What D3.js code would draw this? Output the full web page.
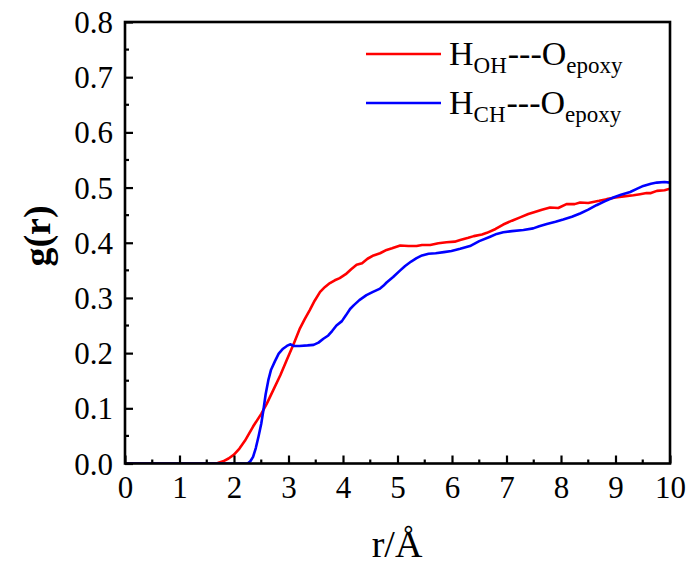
<!DOCTYPE html>
<html><head><meta charset="utf-8">
<script src="https://cdn.jsdelivr.net/npm/d3@7"></script>
<style>
html,body{margin:0;padding:0;background:#fff;}
svg text{font-family:"Liberation Serif","Times New Roman",serif !important;fill:#000;}
</style></head>
<body>
<svg id="chart" width="691" height="566"></svg>
<script>
// ---- data ----
const redR = [0,1.6,1.7,1.8,1.9,2.0,2.1,2.2,2.35,2.5,2.6,2.72,2.85,2.97,3.1,3.21,3.3,3.39,3.48,3.58,3.67,3.76,3.85,3.94,4.05,4.15,4.25,4.35,4.45,4.56,4.68,4.8,4.9,5.05,5.2,5.35,5.45,5.6,5.75,5.9,6.05,6.15,6.3,6.4,6.55,6.64,6.8,6.94,7.1,7.25,7.4,7.49,7.65,7.8,7.95,8.1,8.25,8.35,8.5,8.59,8.7,8.84,9.0,9.15,9.33,9.45,9.57,9.65,9.76,9.9,10];
const redG = [0,0,0.001,0.004,0.009,0.016,0.027,0.041,0.067,0.09,0.108,0.133,0.16,0.188,0.218,0.245,0.262,0.278,0.295,0.311,0.32,0.327,0.332,0.336,0.343,0.352,0.36,0.363,0.371,0.377,0.381,0.387,0.39,0.395,0.394,0.394,0.396,0.396,0.399,0.401,0.402,0.405,0.409,0.412,0.415,0.418,0.425,0.433,0.44,0.446,0.452,0.455,0.46,0.464,0.463,0.47,0.47,0.473,0.472,0.474,0.476,0.479,0.482,0.484,0.486,0.488,0.49,0.49,0.494,0.495,0.498];
const blueR = [0,2.25,2.3,2.35,2.4,2.45,2.5,2.54,2.58,2.63,2.68,2.75,2.82,2.9,2.97,3.03,3.1,3.2,3.35,3.46,3.55,3.64,3.73,3.8,3.88,3.98,4.05,4.13,4.2,4.3,4.43,4.55,4.68,4.74,4.8,4.92,5.05,5.14,5.25,5.35,5.45,5.57,5.7,5.85,5.99,6.15,6.33,6.5,6.7,6.82,6.94,7.1,7.31,7.49,7.6,7.74,7.9,8.04,8.2,8.35,8.5,8.65,8.8,8.96,9.1,9.27,9.4,9.51,9.65,9.76,9.9,10];
const blueG = [0,0,0.004,0.012,0.028,0.049,0.072,0.097,0.125,0.151,0.17,0.185,0.199,0.208,0.213,0.216,0.213,0.213,0.214,0.215,0.219,0.226,0.232,0.24,0.25,0.258,0.268,0.28,0.287,0.296,0.305,0.311,0.317,0.322,0.328,0.338,0.35,0.358,0.366,0.372,0.377,0.38,0.381,0.383,0.385,0.389,0.394,0.403,0.411,0.416,0.419,0.421,0.423,0.426,0.43,0.434,0.438,0.442,0.447,0.453,0.46,0.468,0.475,0.482,0.487,0.492,0.498,0.503,0.507,0.509,0.51,0.509];
const xTicks = [0,1,2,3,4,5,6,7,8,9,10];
const yTicks = [0.0,0.1,0.2,0.3,0.4,0.5,0.6,0.7,0.8];
const seriesNames = [["H","OH","---","O","epoxy"],["H","CH","---","O","epoxy"]];
const seriesColors = ["#ff0000","#0000ff"];

// ---- layout ----
const svg = d3.select("#chart");
const L = 125, R = 670, T = 22, B = 463.5;
const x = d3.scaleLinear().domain([0,10]).range([L,R]);
const y = d3.scaleLinear().domain([0,0.8]).range([B,T]);
const FONT = "'Liberation Serif','Times New Roman',serif";

svg.append("clipPath").attr("id","clp").append("rect")
  .attr("x",L).attr("y",T).attr("width",R-L).attr("height",B-T);

const line = d3.line().x(d=>x(d[0])).y(d=>y(d[1]));
const redData = redR.map((r,i)=>[r,redG[i]]);
const blueData = blueR.map((r,i)=>[r,blueG[i]]);

svg.append("g").attr("clip-path","url(#clp)").selectAll("path")
  .data([redData, blueData]).join("path")
  .attr("d", line).attr("fill","none")
  .attr("stroke",(d,i)=>seriesColors[i]).attr("stroke-width",2.6)
  .attr("stroke-linejoin","round");

// frame
svg.append("rect").attr("x",L).attr("y",T).attr("width",R-L).attr("height",B-T)
  .attr("fill","none").attr("stroke","#000").attr("stroke-width",2.6);

// axes (ticks inward)
const xAxis = d3.axisBottom(x).tickValues(xTicks).tickSize(-8).tickPadding(13).tickFormat(d3.format("d"));
const gx = svg.append("g").attr("transform",`translate(0,${B})`).call(xAxis);
const yAxis = d3.axisLeft(y).tickValues(yTicks).tickSize(-8).tickPadding(12).tickFormat(d3.format(".1f"));
const gy = svg.append("g").attr("transform",`translate(${L},0)`).call(yAxis);
[gx,gy].forEach(g=>{
  g.attr("font-family",null).attr("font-size",null);
  g.select(".domain").remove();
  g.selectAll(".tick line").attr("stroke","#000").attr("stroke-width",2.2);
  g.selectAll(".tick text").style("font-size","31px").style("font-family",FONT).attr("fill","#000");
});
gy.selectAll(".tick text").attr("dy","0.34em");
gx.selectAll(".tick text").attr("dy","0.7em");

// minor ticks
const xMinor = xTicks.slice(0,-1).map(v=>v+0.5);
const yMinor = yTicks.slice(0,-1).map(v=>v+0.05);
svg.append("g").selectAll("line").data(xMinor).join("line")
  .attr("x1",d=>x(d)).attr("x2",d=>x(d)).attr("y1",B).attr("y2",B-4)
  .attr("stroke","#000").attr("stroke-width",2.2);
svg.append("g").selectAll("line").data(yMinor).join("line")
  .attr("y1",d=>y(d)).attr("y2",d=>y(d)).attr("x1",L).attr("x2",L+4)
  .attr("stroke","#000").attr("stroke-width",2.2);

// axis titles
svg.append("text").attr("x",397).attr("y",557).attr("text-anchor","middle")
  .style("font-family",FONT).style("font-size","38px").text("r/Å");
svg.append("text").attr("transform","translate(50,236) rotate(-90)")
  .attr("text-anchor","middle").style("font-family",FONT).style("font-size","38px")
  .style("font-weight","bold").text("g(r)");

// legend
const leg = svg.append("g");
const legY = [54, 103];
seriesNames.forEach((nm,i)=>{
  leg.append("line").attr("x1",366).attr("x2",441).attr("y1",legY[i]).attr("y2",legY[i])
    .attr("stroke",seriesColors[i]).attr("stroke-width",2.6);
  const t = leg.append("text").attr("x",449).attr("y",legY[i]+11)
    .style("font-family",FONT).style("font-size","34px");
  t.append("tspan").text(nm[0]);
  t.append("tspan").style("font-size","23px").attr("dy",8).text(nm[1]);
  t.append("tspan").attr("dy",-8).attr("dx",1).text(nm[2]);
  t.append("tspan").text(nm[3]);
  t.append("tspan").style("font-size","23px").attr("dy",8).text(nm[4]);
});
</script>
</body></html>
